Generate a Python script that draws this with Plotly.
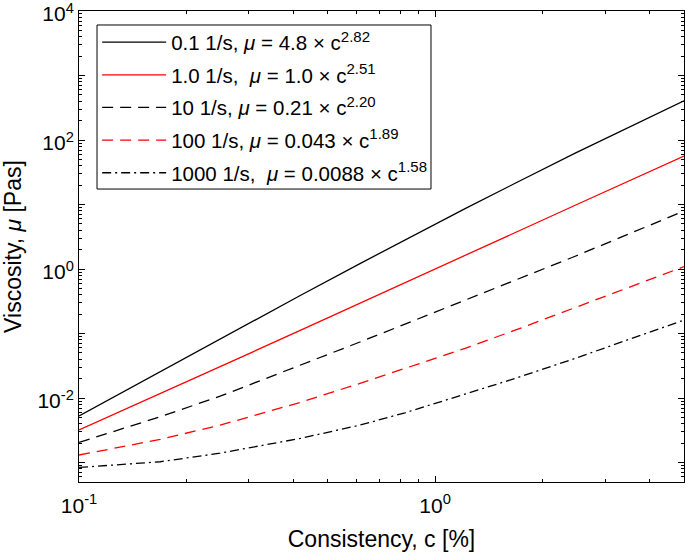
import plotly.graph_objects as go
import numpy as np

# Consistency c [%] (x positions)
c = [0.1, 0.169, 0.249, 0.418, 0.615, 0.823, 1.214, 1.678, 2.474, 5.0]

# Viscosity [Pas] for each shear rate
mu_01 = [0.0053, 0.0256, 0.0832, 0.389, 1.216, 2.83, 8.65, 21.4, 62.7, 407]
mu_1 = [0.0032, 0.0116, 0.0307, 0.112, 0.297, 0.613, 1.63, 3.66, 9.75, 56.5]
mu_10 = [0.00206, 0.00513, 0.0107, 0.032, 0.074, 0.140, 0.330, 0.675, 1.58, 7.94]
mu_100 = [0.00131, 0.00229, 0.00381, 0.00857, 0.0169, 0.0288, 0.059, 0.113, 0.251, 1.09]
mu_1000 = [0.00084, 0.00103, 0.00140, 0.00237, 0.00381, 0.00592, 0.01153, 0.0202, 0.0413, 0.162]

SUP = "<sup><span style='font-size:15px'>{}</span></sup>"
names = [
    "0.1 1/s, <i>μ</i> = 4.8 × c" + SUP.format("2.82"),
    "1.0 1/s,&nbsp; <i>μ</i> = 1.0 × c" + SUP.format("2.51"),
    "10 1/s, <i>μ</i> = 0.21 × c" + SUP.format("2.20"),
    "100 1/s, <i>μ</i> = 0.043 × c" + SUP.format("1.89"),
    "1000 1/s,&nbsp; <i>μ</i> = 0.0088 × c" + SUP.format("1.58"),
]
series = [mu_01, mu_1, mu_10, mu_100, mu_1000]
colors = ["#000000", "#ff0000", "#000000", "#ff0000", "#000000"]
dashes = ["solid", "solid", "11px,7px", "11px,7px", "9px,4px,2px,4px"]

x_tickvals = [0.1, 1]
x_ticktext = ["10<sup>-1</sup>", "10<sup>0</sup>"]
y_tickvals = [1e-3, 1e-2, 1e-1, 1, 10, 100, 1000, 10000]
y_ticktext = ["", "10<sup>-2</sup>", "", "10<sup>0</sup>", "", "10<sup>2</sup>", "", "10<sup>4</sup>"]

fig = go.Figure()
for i, (nm, ys, col, ds) in enumerate(zip(names, series, colors, dashes)):
    fig.add_trace(go.Scatter(
        x=c, y=ys, mode="lines", name=nm, legendgroup=str(i),
        line=dict(color=col, width=1.3, dash=ds),
    ))

x_minor = [m * 10.0 ** e for e in (-1, 0) for m in range(2, 10)]
x_minor = [v for v in x_minor if v <= 5.0]
y_minor = [m * 10.0 ** e for e in range(-4, 4) for m in range(2, 10)]
y_minor = [v for v in y_minor if 5e-4 <= v <= 1e4]

font = "Liberation Sans, Arial, Helvetica, sans-serif"
axis_common = dict(
    showline=True, linecolor="black", linewidth=1, mirror="allticks",
    ticks="inside", ticklen=6, tickcolor="black", tickwidth=1,
    showgrid=False, zeroline=False, automargin=False,
    ticklabeloverflow="allow",
    tickfont=dict(family=font, size=21, color="black"),
)

fig.update_layout(
    width=685, height=554,
    margin=dict(l=79, r=1, t=11, b=72),
    paper_bgcolor="white", plot_bgcolor="white",
    font=dict(family=font, color="black"),
    xaxis=dict(
        type="log", range=[-1.0002, np.log10(5.0)],
        tickmode="array", tickvals=x_tickvals, ticktext=x_ticktext,
        minor=dict(tickmode="array", tickvals=x_minor, ticks="inside", ticklen=3, tickcolor="black"),
        title=dict(text="Consistency, c [%]", font=dict(family=font, size=23), standoff=14),
        ticklabelstandoff=5,
        **axis_common,
    ),
    yaxis=dict(
        type="log", range=[np.log10(5e-4), 4.0005],
        tickmode="array", tickvals=y_tickvals, ticktext=y_ticktext,
        minor=dict(tickmode="array", tickvals=y_minor, ticks="inside", ticklen=3, tickcolor="black"),
        title=dict(text="Viscosity, <i>μ</i> [Pas]", font=dict(family=font, size=23), standoff=14),
        ticklabelshift=3,
        **axis_common,
    ),
    legend=dict(
        x=0.03, y=0.976, xanchor="left", yanchor="top",
        bgcolor="rgba(0,0,0,0)", borderwidth=0,
        font=dict(family=font, size=20.5, color="black"),
        itemwidth=64, tracegroupgap=3,
    ),
    shapes=[dict(
        type="rect", xref="paper", yref="paper",
        x0=0.0298, x1=0.5818, y0=0.622, y1=0.9703,
        line=dict(color="black", width=1), fillcolor="white", layer="below",
    )],
    showlegend=True,
)

fig.write_html(
    "out.html",
    config={"displayModeBar": False},
    post_script="document.body.style.margin='0px';document.body.style.padding='0px';",
)
